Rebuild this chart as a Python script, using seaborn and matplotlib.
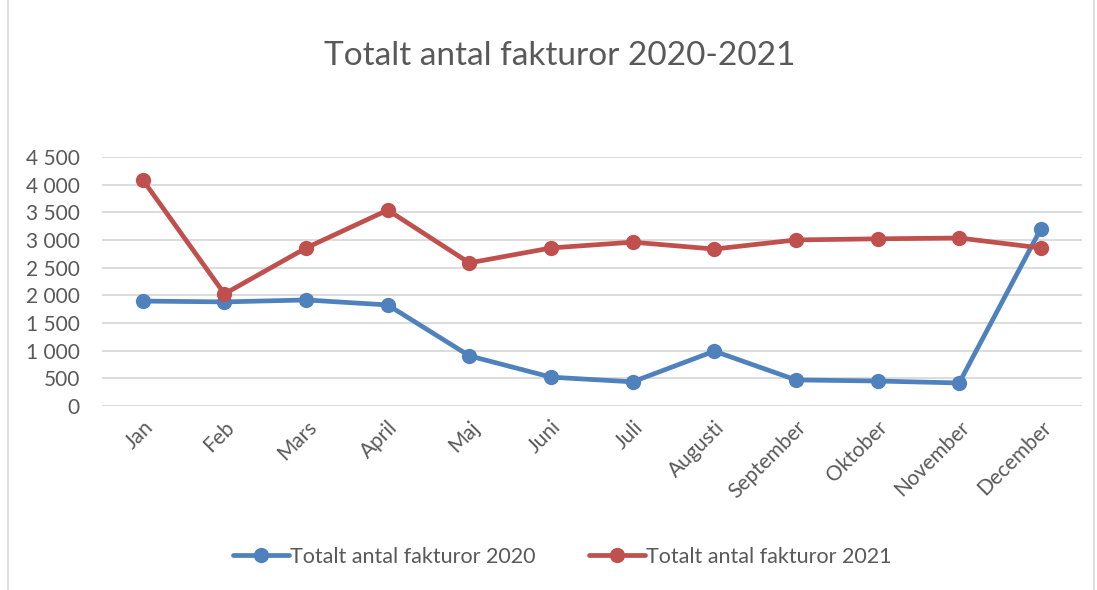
import matplotlib
matplotlib.use("Agg")
import matplotlib.pyplot as plt
import seaborn as sns
import pandas as pd
from matplotlib.patches import Rectangle

months = ["Jan", "Feb", "Mars", "April", "Maj", "Juni", "Juli", "Augusti",
          "September", "Oktober", "November", "December"]
values_2020 = [1895, 1880, 1915, 1825, 905, 520, 435, 990, 470, 450, 415, 3200]
values_2021 = [4085, 2025, 2855, 3540, 2585, 2855, 2960, 2835, 3000, 3020, 3035, 2855]
series_names = ["Totalt antal fakturor 2020", "Totalt antal fakturor 2021"]
yticks = [0, 500, 1000, 1500, 2000, 2500, 3000, 3500, 4000, 4500]
title = "Totalt antal fakturor 2020-2021"

sns.set_theme(style="white")
plt.rcParams["font.family"] = ["Lato", "DejaVu Sans"]

text_color = "#595959"
colors = ["#4F81BD", "#C0504D"]

df = pd.DataFrame({
    "idx": list(range(len(months))) * 2,
    "value": values_2020 + values_2021,
    "series": [series_names[0]] * len(months) + [series_names[1]] * len(months),
})

fig = plt.figure(figsize=(10.97, 5.90), dpi=100)
ax = fig.add_axes([0.093, 0.312, 0.893, 0.422])

sns.lineplot(data=df, x="idx", y="value", hue="series", palette=colors,
             marker="o", markersize=11, markeredgewidth=0, linewidth=3.4,
             sort=False, ax=ax, legend=True, clip_on=False, zorder=3)

ax.set_xlim(-0.5, len(months) - 0.5)
ax.set_ylim(0, 4500)
ax.set_yticks(yticks)
ax.set_yticklabels([f"{v:,}".replace(",", " ") for v in yticks])
ax.set_xticks(range(len(months)))
ax.set_xticklabels(months, rotation=45, ha="right", rotation_mode="anchor")
ax.tick_params(axis="both", length=0, colors=text_color, labelsize=15)
ax.tick_params(axis="y", pad=16)
ax.tick_params(axis="x", pad=8)
ax.set_xlabel("")
ax.set_ylabel("")
ax.grid(axis="y", color="#D9D9D9", linewidth=1.3)
ax.set_axisbelow(True)
for s in ax.spines.values():
    s.set_visible(False)

fig.text(0.51, 0.905, title, ha="center", va="center", fontsize=24, color=text_color)

handles, labels = ax.get_legend_handles_labels()
ax.legend(handles, labels, loc="center", bbox_to_anchor=(0.47, -0.606), ncol=2,
          frameon=False, fontsize=15.5, labelcolor=text_color, handlelength=2.6,
          handletextpad=0.05, columnspacing=2.5)

fig.patches.append(Rectangle((0.007, -0.01), 0.99, 1.02, transform=fig.transFigure,
                             fill=False, edgecolor="#D9D9D9", linewidth=1.2))

fig.savefig("out.png", dpi=100, facecolor="white")
